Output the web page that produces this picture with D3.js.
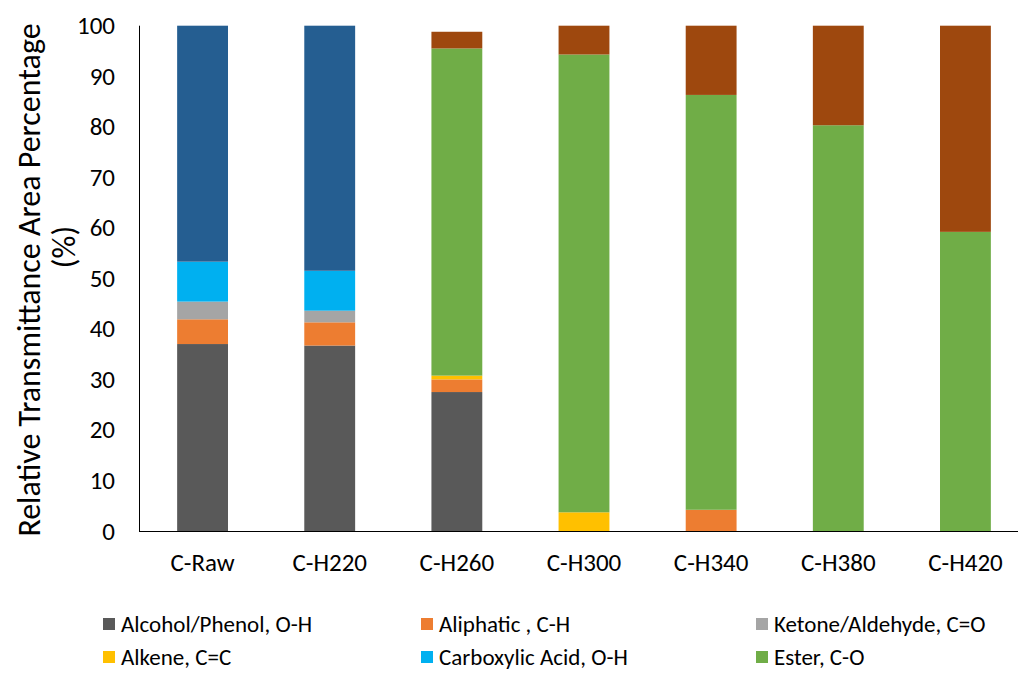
<!DOCTYPE html>
<html>
<head>
<meta charset="utf-8">
<script src="https://cdn.jsdelivr.net/npm/d3@7"></script>
<style>
  html, body { margin: 0; padding: 0; background: #fff; }
  svg { display: block; font-family: Carlito, Calibri, Lato, "Open Sans", sans-serif; }
</style>
</head>
<body>
<svg id="chart" width="1018" height="673"></svg>
<script>
// Samples
const categories = ["C-Raw", "C-H220", "C-H260", "C-H300", "C-H340", "C-H380", "C-H420"];

// Relative area (%) per functional group, one value per sample
const alcoholPhenol   = [37.0, 36.7, 27.5, 0.0, 0.0, 0.0, 0.0];
const aliphatic       = [4.9, 4.6, 2.5, 0.0, 4.2, 0.0, 0.0];
const ketoneAldehyde  = [3.5, 2.3, 0.0, 0.0, 0.0, 0.0, 0.0];
const alkene          = [0.0, 0.0, 0.75, 3.7, 0.0, 0.0, 0.0];
const carboxylicAcid  = [7.9, 7.9, 0.0, 0.0, 0.0, 0.0, 0.0];
const otherBlue       = [46.7, 48.5, 0.0, 0.0, 0.0, 0.0, 0.0];
const ester           = [0.0, 0.0, 64.75, 90.6, 82.1, 80.3, 59.2];
const otherBrown      = [0.0, 0.0, 3.3, 5.7, 13.7, 19.7, 40.8];

const yTicks = [0, 10, 20, 30, 40, 50, 60, 70, 80, 90, 100];

// Stack order bottom to top; label null keeps a series out of the legend
const series = [
  { key: "alcohol",    label: "Alcohol/Phenol, O-H",     color: "#595959", values: alcoholPhenol },
  { key: "aliphatic",  label: "Aliphatic , C-H",         color: "#ED7D31", values: aliphatic },
  { key: "ketone",     label: "Ketone/Aldehyde, C=O",    color: "#A5A5A5", values: ketoneAldehyde },
  { key: "alkene",     label: "Alkene, C=C",             color: "#FFC000", values: alkene },
  { key: "carboxylic", label: "Carboxylic Acid, O-H",    color: "#00B0F0", values: carboxylicAcid },
  { key: "otherBlue",  label: null,                      color: "#255E91", values: otherBlue },
  { key: "ester",      label: "Ester, C-O",              color: "#70AD47", values: ester },
  { key: "otherBrown", label: null,                      color: "#9E480E", values: otherBrown }
];

const rows = categories.map((c, i) => {
  const r = { category: c };
  series.forEach(s => { r[s.key] = s.values[i]; });
  return r;
});

const svg = d3.select("#chart");

const plot = { left: 139, right: 1029, top: 25.7, bottom: 531 };

const x = d3.scaleBand()
  .domain(categories)
  .range([plot.left, plot.right])
  .paddingInner(0.6)
  .paddingOuter(0.3);

const y = d3.scaleLinear()
  .domain([0, 100])
  .range([plot.bottom, plot.top]);

const stack = d3.stack().keys(series.map(s => s.key));
const stacked = stack(rows);

// Bars
const layers = svg.append("g")
  .selectAll("g")
  .data(stacked)
  .join("g")
  .attr("fill", (d, i) => series[i].color);

layers.selectAll("rect")
  .data(d => d.filter(p => p[1] - p[0] > 0))
  .join("rect")
  .attr("x", d => x(d.data.category))
  .attr("width", x.bandwidth())
  .attr("y", d => y(d[1]))
  .attr("height", d => y(d[0]) - y(d[1]));

// Y axis (labels only, with a plain axis line)
const yAxis = d3.axisLeft(y).tickValues(yTicks).tickSize(0).tickPadding(24);
const gy = svg.append("g")
  .attr("transform", `translate(${plot.left},0)`)
  .call(yAxis);
gy.select(".domain").remove();
gy.selectAll("text")
  .attr("font-size", 25)
  .attr("fill", "#000")
  .attr("font-family", "Carlito, Calibri, Lato, sans-serif");

svg.append("line")
  .attr("x1", plot.left + 0.5).attr("x2", plot.left + 0.5)
  .attr("y1", plot.top).attr("y2", plot.bottom)
  .attr("stroke", "#000").attr("stroke-width", 1);

// X axis
const xAxis = d3.axisBottom(x).tickSize(0).tickPadding(22);
const gx = svg.append("g")
  .attr("transform", `translate(0,${plot.bottom})`)
  .call(xAxis);
gx.select(".domain").remove();
gx.selectAll("text")
  .attr("font-size", 25)
  .attr("fill", "#000")
  .attr("font-family", "Carlito, Calibri, Lato, sans-serif");

svg.append("line")
  .attr("x1", plot.left).attr("x2", 1018)
  .attr("y1", plot.bottom + 0.5).attr("y2", plot.bottom + 0.5)
  .attr("stroke", "#000").attr("stroke-width", 1.2);

// Y axis title (two lines)
const title = svg.append("g").attr("font-size", 32).attr("fill", "#000");
title.append("text")
  .attr("transform", "translate(40,280) rotate(-90)")
  .attr("text-anchor", "middle")
  .text("Relative Transmittance Area  Percentage");
title.append("text")
  .attr("transform", "translate(75,247) rotate(-90)")
  .attr("text-anchor", "middle")
  .text("(%)");

// Legend
const legendItems = series.filter(s => s.label);
const legendCols = [103, 421, 756];
const legendRows = [624, 657];
const lg = svg.append("g").attr("font-size", 23);
legendItems.forEach((s, i) => {
  const cx = legendCols[i % 3];
  const cy = legendRows[Math.floor(i / 3)];
  const item = lg.append("g").attr("transform", `translate(${cx},${cy})`);
  item.append("rect")
    .attr("x", 0).attr("y", -6)
    .attr("width", 12).attr("height", 12)
    .attr("fill", s.color);
  item.append("text")
    .attr("x", 18).attr("y", 0)
    .attr("dy", "0.35em")
    .attr("fill", "#000")
    .text(s.label);
});
</script>
</body>
</html>
